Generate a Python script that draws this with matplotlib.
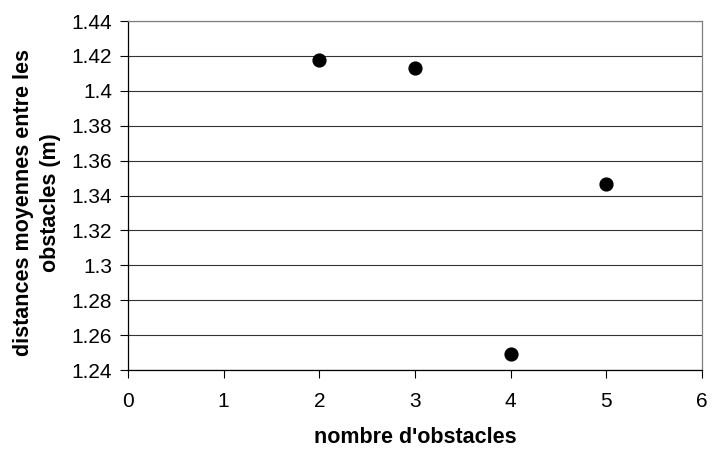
import matplotlib.pyplot as plt

plt.rcParams['font.family'] = ['Liberation Sans', 'DejaVu Sans']

# data
nb_obstacles = [2, 3, 4, 5]
distances = [1.4177, 1.4129, 1.2490, 1.3466]

x_ticks = [0, 1, 2, 3, 4, 5, 6]
y_ticks = [1.24, 1.26, 1.28, 1.30, 1.32, 1.34, 1.36, 1.38, 1.40, 1.42, 1.44]
y_tick_labels = ['1.24', '1.26', '1.28', '1.3', '1.32', '1.34', '1.36',
                 '1.38', '1.4', '1.42', '1.44']

fig = plt.figure(figsize=(7.12, 4.53), dpi=100)
ax = fig.add_axes([0.1798, 0.1832, 0.8062, 0.7704])

ax.scatter(nb_obstacles, distances, s=85, color='black', zorder=3)

ax.set_xlim(0, 6)
ax.set_ylim(1.24, 1.44)
ax.set_xticks(x_ticks)
ax.set_yticks(y_ticks)
ax.set_yticklabels(y_tick_labels)

# horizontal gridlines like Excel
ax.yaxis.grid(True, color='#333333', linewidth=0.8)
ax.set_axisbelow(True)

ax.tick_params(axis='both', direction='out', length=5.5, width=0.8,
               labelsize=15, colors='black')
ax.tick_params(axis='y', pad=6)
ax.tick_params(axis='x', pad=10)

for side in ['left', 'bottom']:
    ax.spines[side].set_color('black')
    ax.spines[side].set_linewidth(0.9)
for side in ['top', 'right']:
    ax.spines[side].set_color('#808080')
    ax.spines[side].set_linewidth(0.9)

fig.text(0.052, 0.552, "distances moyennes entre les\nobstacles (m)",
         rotation=90, ha='center', va='center', multialignment='center',
         fontsize=15.5, fontweight='bold', linespacing=1.4)
fig.text(0.584, 0.035, "nombre d'obstacles", ha='center', va='center',
         fontsize=15.5, fontweight='bold')

fig.savefig('out.png', dpi=100)
